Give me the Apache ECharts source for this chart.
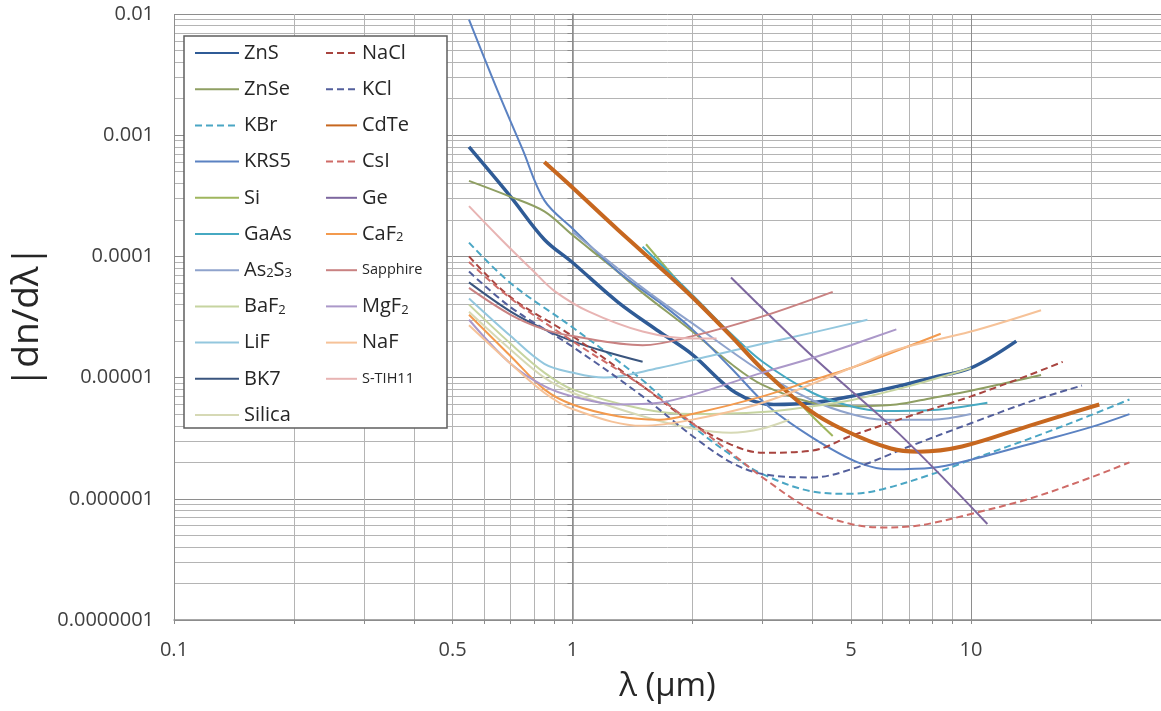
<!DOCTYPE html>
<html>
<head>
<meta charset="utf-8">
<script src="https://cdn.jsdelivr.net/npm/echarts@6/dist/echarts.min.js"></script>
<style>
  html, body { margin: 0; padding: 0; background: #fff; }
  #chart { width: 1161px; height: 711px; }
</style>
</head>
<body>
<div id="chart"></div>
<script>
// [wavelength (um), |dn/dlambda|]
const ZnS = [[0.55, 8.0e-4], [0.7, 3.1e-4], [0.85, 1.38e-4], [1, 8.9e-5], [1.3, 4.2e-5], [1.65, 2.4e-5], [2, 1.55e-5], [2.57, 7.5e-6], [3.2, 6.0e-6], [4, 6.2e-6], [5, 7.0e-6], [6.57, 8.5e-6], [8, 1.0e-5], [10, 1.2e-5], [13, 2.0e-5]];
const ZnSe = [[0.55, 4.2e-4], [0.7, 3.1e-4], [0.85, 2.35e-4], [1, 1.5e-4], [1.25, 8.3e-5], [1.5, 5.0e-5], [2, 2.4e-5], [2.5, 1.3e-5], [3, 8.7e-6], [4, 6.2e-6], [5, 5.8e-6], [6.5, 6.0e-6], [8, 6.8e-6], [10, 7.8e-6], [15, 1.05e-5]];
const KBr = [[0.55, 1.3e-4], [0.7, 6.0e-5], [1, 2.6e-5], [1.5, 9.5e-6], [2, 4.0e-6], [2.5, 2.3e-6], [3, 1.6e-6], [4, 1.15e-6], [5, 1.1e-6], [6, 1.2e-6], [8, 1.6e-6], [10, 2.1e-6], [15, 3.4e-6], [20, 4.9e-6], [25, 6.6e-6]];
const KRS5 = [[0.55, 9.0e-3], [0.65, 2.3e-3], [0.75, 7.6e-4], [0.85, 2.9e-4], [1, 1.7e-4], [1.3, 7.5e-5], [1.65, 4.2e-5], [2, 2.5e-5], [2.5, 1.2e-5], [3.1, 5.8e-6], [4, 3.2e-6], [5.2, 2.0e-6], [6.3, 1.75e-6], [8, 1.8e-6], [10, 2.1e-6], [15, 3.0e-6], [20, 3.9e-6], [25, 5.0e-6]];
const Si = [[1.53, 1.26e-4], [2, 4.6e-5], [2.5, 2.2e-5], [3, 1.2e-5], [3.5, 7.5e-6], [4, 4.8e-6], [4.5, 3.3e-6]];
const GaAs = [[1.5, 1.2e-4], [2, 4.8e-5], [2.5, 2.3e-5], [3, 1.35e-5], [4, 7.5e-6], [5, 5.8e-6], [6, 5.3e-6], [8, 5.4e-6], [11, 6.2e-6]];
const As2S3 = [[1, 1.6e-4], [1.5, 5.5e-5], [2, 2.8e-5], [3, 1.1e-5], [4, 6.5e-6], [5, 5.0e-6], [6, 4.5e-6], [8, 4.5e-6], [10, 5.0e-6]];
const BaF2 = [[0.55, 4.0e-5], [0.7, 1.9e-5], [0.85, 1.1e-5], [1, 8.0e-6], [1.5, 5.5e-6], [2, 5.0e-6], [3, 5.2e-6], [4, 5.8e-6], [5, 6.5e-6], [7, 8.5e-6], [10, 1.2e-5]];
const LiF = [[0.55, 4.5e-5], [0.7, 2.2e-5], [0.85, 1.3e-5], [1, 1.1e-5], [1.2, 1.0e-5], [1.65, 1.2e-5], [2.2, 1.5e-5], [3, 1.9e-5], [4, 2.35e-5], [5.5, 3.0e-5]];
const BK7 = [[0.55, 6.1e-5], [0.7, 3.5e-5], [0.85, 2.5e-5], [1, 2.0e-5], [1.2, 1.65e-5], [1.5, 1.35e-5]];
const Silica = [[0.55, 3.5e-5], [0.7, 1.7e-5], [0.85, 1.0e-5], [1, 7.5e-6], [1.5, 4.8e-6], [2, 3.8e-6], [2.5, 3.5e-6], [3, 3.8e-6], [3.5, 4.5e-6]];
const NaCl = [[0.55, 1.0e-4], [0.7, 4.6e-5], [1, 2.2e-5], [1.5, 8.5e-6], [2, 4.2e-6], [2.5, 2.8e-6], [3, 2.4e-6], [4, 2.5e-6], [5, 3.3e-6], [7, 4.8e-6], [10, 7.0e-6], [14, 1.05e-5], [17, 1.35e-5]];
const KCl = [[0.55, 7.5e-5], [0.7, 3.8e-5], [1, 1.8e-5], [1.5, 7.0e-6], [2, 3.3e-6], [2.5, 2.0e-6], [3, 1.6e-6], [4, 1.5e-6], [5, 1.75e-6], [7, 2.7e-6], [10, 4.2e-6], [14, 6.3e-6], [19, 8.6e-6]];
const CdTe = [[0.85, 6.0e-4], [1, 3.7e-4], [1.3, 1.66e-4], [1.68, 7.8e-5], [2, 4.6e-5], [2.5, 2.2e-5], [3, 1.17e-5], [3.9, 5.5e-6], [4.8, 3.7e-6], [6.3, 2.6e-6], [7.4, 2.45e-6], [9.5, 2.7e-6], [14, 4.0e-6], [21, 6.0e-6]];
const CsI = [[0.55, 9.0e-5], [0.7, 4.5e-5], [1, 2.0e-5], [1.5, 8.5e-6], [2, 4.2e-6], [2.5, 2.4e-6], [3, 1.5e-6], [4, 8.0e-7], [5, 6.2e-7], [6, 5.8e-7], [7, 5.9e-7], [8, 6.3e-7], [10, 7.5e-7], [14, 1.0e-6], [20, 1.5e-6], [25, 2.0e-6]];
const Ge = [[2.5, 6.7e-5], [4, 1.5e-5], [6.57, 3.5e-6], [11, 6.2e-7]];
const CaF2 = [[0.55, 3.3e-5], [0.7, 1.5e-5], [0.85, 8.0e-6], [1, 6.0e-6], [1.3, 4.8e-6], [1.65, 4.5e-6], [2, 5.0e-6], [3, 7.0e-6], [4, 9.5e-6], [5, 1.2e-5], [6, 1.5e-5], [8.4, 2.3e-5]];
const Sapphire = [[0.55, 5.5e-5], [0.7, 3.3e-5], [0.85, 2.5e-5], [1, 2.2e-5], [1.5, 1.85e-5], [2, 2.2e-5], [3, 3.2e-5], [4.5, 5.1e-5]];
const MgF2 = [[0.55, 3.0e-5], [0.7, 1.3e-5], [0.85, 8.5e-6], [1, 7.0e-6], [1.3, 6.0e-6], [1.65, 6.2e-6], [2, 7.2e-6], [3, 1.1e-5], [4, 1.45e-5], [5, 1.85e-5], [6.5, 2.5e-5]];
const NaF = [[0.55, 2.7e-5], [0.7, 1.3e-5], [0.85, 7.5e-6], [1, 5.5e-6], [1.5, 4.0e-6], [2, 4.5e-6], [3, 6.2e-6], [5, 1.2e-5], [6.5, 1.7e-5], [10, 2.4e-5], [15, 3.6e-5]];
const S_TIH11 = [[0.55, 2.6e-4], [0.66, 1.4e-4], [0.8, 7.5e-5], [0.9, 5.2e-5], [1.1, 3.5e-5], [1.5, 2.4e-5], [2, 2.1e-5], [2.3, 2.1e-5]];

const legendLeft = ['ZnS', 'ZnSe', 'KBr', 'KRS5', 'Si', 'GaAs', 'As2S3', 'BaF2', 'LiF', 'BK7', 'Silica'];
const legendRight = ['NaCl', 'KCl', 'CdTe', 'CsI', 'Ge', 'CaF2', 'Sapphire', 'MgF2', 'NaF', 'S-TIH11'];

const xLabelValues = [0.1, 0.5, 1, 5, 10];
const xTickLabels = ['0.1', '0.5', '1', '5', '10'];
const yLabelValues = [1e-7, 1e-6, 1e-5, 1e-4, 1e-3, 1e-2];
const yTickLabels = ['0.0000001', '0.000001', '0.00001', '0.0001', '0.001', '0.01'];
const gridSteps = [1, 2, 3, 4, 5, 6, 7, 8, 9];

// name, data, colour, width, dashed
const seriesDefs = [
  ['ZnS', ZnS, '#2f5b96', 3.5, false],
  ['ZnSe', ZnSe, '#8f9f63', 2, false],
  ['KBr', KBr, '#4aa6c4', 2, true],
  ['KRS5', KRS5, '#5b82c2', 2, false],
  ['Si', Si, '#9fb65e', 2, false],
  ['GaAs', GaAs, '#46a9c2', 2, false],
  ['As2S3', As2S3, '#8fa3cc', 2, false],
  ['BaF2', BaF2, '#c6d4a0', 2, false],
  ['LiF', LiF, '#93c7de', 2, false],
  ['BK7', BK7, '#3a557e', 2, false],
  ['Silica', Silica, '#d6d9b5', 2, false],
  ['NaCl', NaCl, '#a8443f', 2, true],
  ['KCl', KCl, '#535f9c', 2, true],
  ['CdTe', CdTe, '#c7671f', 4, false],
  ['CsI', CsI, '#cf6b67', 2, true],
  ['Ge', Ge, '#7d679f', 2, false],
  ['CaF2', CaF2, '#f39a4e', 2, false],
  ['Sapphire', Sapphire, '#c98282', 2, false],
  ['MgF2', MgF2, '#ab98c9', 2, false],
  ['NaF', NaF, '#f6c298', 2, false],
  ['S-TIH11', S_TIH11, '#e8b4b3', 2, false]
];

const log10 = Math.log10;
const xGrid = [];
[0.1, 1, 10].forEach(d => gridSteps.forEach(s => { if (d * s <= 30) xGrid.push(log10(d * s)); }));
const yGrid = [];
[1e-7, 1e-6, 1e-5, 1e-4, 1e-3].forEach(d => gridSteps.forEach(s => yGrid.push(log10(d * s))));
yGrid.push(-2);

const pickLabel = (values, labels) => v => {
  const i = values.findIndex(x => Math.abs(log10(x) - v) < 1e-6);
  return i < 0 ? '' : labels[i];
};

const subNames = {
  As2S3: '{n|As}{s|2}{n|S}{s|3}',
  BaF2: '{n|BaF}{s|2}',
  CaF2: '{n|CaF}{s|2}',
  MgF2: '{n|MgF}{s|2}',
  Sapphire: '{sm|Sapphire}',
  'S-TIH11': '{sm|S-TIH11}'
};

const legendText = {
  color: '#262626',
  fontFamily: 'Open Sans',
  fontSize: 20,
  lineHeight: 20,
  rich: {
    n: { fontSize: 20, lineHeight: 20, color: '#262626', fontFamily: 'Open Sans' },
    s: { fontSize: 13, lineHeight: 12, verticalAlign: 'bottom', color: '#262626', fontFamily: 'Open Sans' },
    sm: { fontSize: 14.5, lineHeight: 20, color: '#262626', fontFamily: 'Open Sans' }
  }
};

const majorMinor = ['#8e8e8e', '#b4b4b4', '#b4b4b4', '#b4b4b4', '#b4b4b4', '#b4b4b4', '#b4b4b4', '#b4b4b4', '#b4b4b4'];

const chart = echarts.init(document.getElementById('chart'));

chart.setOption({
  animation: false,
  backgroundColor: '#fff',
  grid: { left: 174, top: 14, right: -3, bottom: 91 },
  graphic: [{
    type: 'rect',
    z: 3,
    shape: { x: 184, y: 36, width: 263, height: 392 },
    style: { fill: '#fff', stroke: '#5f5f5f', lineWidth: 1.5 }
  }],
  legend: [{
    data: legendLeft,
    orient: 'vertical',
    left: 194, top: 43,
    padding: 0,
    itemWidth: 44, itemHeight: 14, itemGap: 16.2,
    itemStyle: { opacity: 0 },
    z: 5,
    textStyle: legendText,
    formatter: name => subNames[name] || name
  }, {
    data: legendRight,
    orient: 'vertical',
    left: 325, top: 43,
    padding: 0,
    itemWidth: 31, itemHeight: 14, itemGap: 16.2,
    itemStyle: { opacity: 0 },
    z: 5,
    textStyle: legendText,
    formatter: name => subNames[name] || name
  }],
  xAxis: {
    type: 'value',
    min: -1, max: log10(30),
    name: 'λ (µm)',
    nameLocation: 'middle',
    nameGap: 50,
    nameTextStyle: { fontFamily: 'Open Sans', fontSize: 33, color: '#262626' },
    axisLine: { show: true, lineStyle: { color: '#8c8c8c', width: 1.5 } },
    axisTick: { show: true, customValues: xGrid, length: 4, lineStyle: { color: '#8c8c8c' } },
    axisLabel: {
      customValues: xLabelValues.map(log10),
      formatter: pickLabel(xLabelValues, xTickLabels),
      fontFamily: 'Open Sans', fontSize: 20, color: '#404040', margin: 20
    },
    splitLine: { show: true, lineStyle: { color: majorMinor, width: 1 } }
  },
  yAxis: {
    type: 'value',
    min: -7, max: -2,
    name: '|dn/dλ|',
    nameLocation: 'middle',
    nameGap: 127,
    nameTextStyle: { fontFamily: 'Open Sans', fontSize: 37, color: '#262626' },
    axisLine: { show: true, lineStyle: { color: '#8c8c8c', width: 1.5 } },
    axisTick: { show: true, customValues: yGrid, length: 5, lineStyle: { color: '#8c8c8c' } },
    axisLabel: {
      customValues: yLabelValues.map(log10),
      formatter: pickLabel(yLabelValues, yTickLabels),
      fontFamily: 'Open Sans', fontSize: 20, color: '#404040', margin: 20
    },
    splitLine: { show: true, lineStyle: { color: majorMinor, width: 1 } }
  },
  series: seriesDefs.map(([name, pts, color, width, dashed]) => ({
    name,
    type: 'line',
    smooth: 0.35,
    symbol: 'none',
    color,
    lineStyle: { color, width, type: dashed ? [7, 4] : 'solid' },
    data: pts.map(([x, y]) => [log10(x), log10(y)])
  }))
});
</script>
</body>
</html>
